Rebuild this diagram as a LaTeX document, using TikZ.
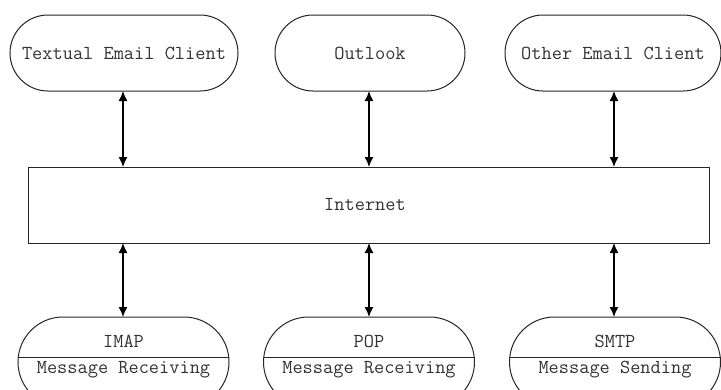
\documentclass[tikz,border=0pt]{standalone}
\usetikzlibrary{arrows.meta,shapes.misc}
\begin{document}
\begin{tikzpicture}[x=1pt,y=-1pt,
  every node/.style={inner sep=0pt,outer sep=0pt},
  lbl/.style={font=\ttfamily\fontsize{19.8}{22}\selectfont, text=black!80},
  client/.style={rounded rectangle, draw=black!85, line width=1pt,
    minimum height=76pt, fill=white},
  proto/.style={rounded rectangle, draw=black!85, line width=1pt,
    minimum height=90pt, minimum width=211pt, fill=white,
    path picture={\draw[black!85, line width=1pt]
      ([yshift=5pt]path picture bounding box.west) --
      ([yshift=5pt]path picture bounding box.east);}},
  netbox/.style={rectangle, draw=black!85, line width=1pt, fill=white},
  link/.style={{Latex[length=10pt,width=9pt]}-{Latex[length=10pt,width=9pt]},
    line width=1.4pt, black}]
\useasboundingbox (0,0) rectangle (721,389);
\clip (0,0) rectangle (721,389);

% top row: email clients
\node[client, minimum width=228pt] (textual) at (124,53) {};
\node[lbl] (textualT) at (124,53) {Textual Email Client};
\node[client, minimum width=190pt] (outlook) at (370,53) {};
\node[lbl] (outlookT) at (370,53) {Outlook};
\node[client, minimum width=216pt] (other) at (613,53) {};
\node[lbl] (otherT) at (613,53) {Other Email Client};

% the network
\node[netbox, minimum width=681pt, minimum height=76pt] (net) at (368.5,205) {};
\node[lbl] (netT) at (365,205) {Internet};

% bottom row: mail protocols
\node[proto] (imap) at (123.5,362) {};
\node[lbl] (imapT) at (123.5,341) {IMAP};
\node[lbl] (imapS) at (123.5,370) {Message Receiving};
\node[proto] (pop) at (369,362) {};
\node[lbl] (popT) at (369,341) {POP};
\node[lbl] (popS) at (369,370) {Message Receiving};
\node[proto] (smtp) at (615,362) {};
\node[lbl] (smtpT) at (615,341) {SMTP};
\node[lbl] (smtpS) at (615,370) {Message Sending};

% two-way links
\draw[link] (textual.south -| 123,0) -- (net.north -| 123,0);
\draw[link] (outlook.south -| 369,0) -- (net.north -| 369,0);
\draw[link] (other.south -| 614,0) -- (net.north -| 614,0);
\draw[link] (net.south -| 123,0) -- (imap.north -| 123,0);
\draw[link] (net.south -| 369,0) -- (pop.north -| 369,0);
\draw[link] (net.south -| 614,0) -- (smtp.north -| 614,0);
\end{tikzpicture}
\end{document}
